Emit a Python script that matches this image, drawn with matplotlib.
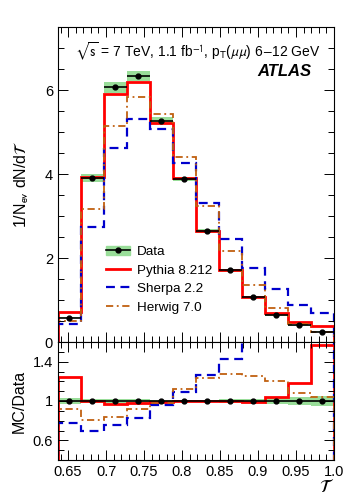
import numpy as np
import matplotlib
matplotlib.use("Agg")
import matplotlib.pyplot as plt
from matplotlib.ticker import MultipleLocator, FixedLocator
from matplotlib.patches import Patch
from matplotlib.lines import Line2D

plt.rcParams['font.family'] = ['Liberation Sans', 'DejaVu Sans']
plt.rcParams['mathtext.fontset'] = 'stixsans'

# binning: transverse thrust from 2/pi to 1, 12 bins
edges = np.linspace(2 / np.pi, 1.0, 13)

data = [0.58, 3.90, 6.06, 6.33, 5.27, 3.88, 2.64, 1.71, 1.08, 0.65, 0.40, 0.25]
data_rel_err = [0.03, 0.025, 0.02, 0.02, 0.015, 0.015, 0.015, 0.02, 0.025, 0.03, 0.04, 0.055]
pythia = [0.71, 3.92, 5.90, 6.19, 5.21, 3.90, 2.64, 1.71, 1.06, 0.68, 0.48, 0.39]
sherpa = [0.44, 2.75, 4.63, 5.31, 5.06, 4.26, 3.32, 2.45, 1.77, 1.26, 0.88, 0.70]
herwig = [0.51, 3.16, 5.15, 5.84, 5.44, 4.40, 3.24, 2.17, 1.35, 0.82, 0.43, 0.25]

ratio_pythia = [1.24, 1.00, 0.97, 0.98, 0.99, 1.00, 1.00, 1.00, 0.99, 1.04, 1.18, 1.57]
ratio_sherpa = [0.78, 0.70, 0.76, 0.83, 0.96, 1.09, 1.26, 1.43, 1.64, 1.94, 2.20, 2.80]
ratio_herwig = [0.92, 0.81, 0.84, 0.92, 0.98, 1.12, 1.23, 1.27, 1.25, 1.20, 1.08, 1.04]

centers = 0.5 * (edges[1:] + edges[:-1])
halfw = 0.5 * np.diff(edges)
data = np.array(data)
rel = np.array(data_rel_err)

fig = plt.figure(figsize=(3.49, 5.0), dpi=100)
ax = fig.add_axes([0.166, 0.316, 0.791, 0.63])
rx = fig.add_axes([0.166, 0.080, 0.791, 0.236], sharex=ax)

red = '#ff0000'
blue = '#0000cc'
brown = '#c06010'
green = '#99dd99'
dash_s = (0, (4, 2.5))
dash_h = (0, (4, 2, 1, 2))

# main panel
ax.stairs(data * (1 + rel), edges, baseline=data * (1 - rel), fill=True, color=green, lw=0)
ax.stairs(pythia, edges, color=red, lw=2.0)
ax.stairs(sherpa, edges, color=blue, lw=1.6, ls=dash_s)
ax.stairs(herwig, edges, color=brown, lw=1.3, ls=dash_h)
ax.errorbar(centers, data, xerr=halfw, fmt='o', color='black', ms=3.5, lw=1.2)

ax.set_xlim(edges[0], 1.0)
ax.set_ylim(0, 7.5)
ax.yaxis.set_major_locator(FixedLocator([0, 2, 4, 6]))
ax.yaxis.set_minor_locator(MultipleLocator(0.5))
ax.set_ylabel(r'1/N$_{\rm ev}$ dN/d$\mathcal{T}$', fontsize=11.5, labelpad=10)
ax.tick_params(labelbottom=False)

ax.text(0.95, 0.92, r'$\sqrt{\rm s}$ = 7 TeV, 1.1 fb$^{-1}$, p$_{\rm T}$($\mu\mu$) 6$-$12 GeV',
        transform=ax.transAxes, ha='right', va='center', fontsize=10)
ax.text(0.92, 0.86, 'ATLAS', transform=ax.transAxes, ha='right', va='center',
        fontsize=12, fontweight='bold', style='italic')

h_data = (Patch(color=green), Line2D([], [], color='black', marker='o', ms=3.5, lw=1.2))
h_p = Line2D([], [], color=red, lw=2.0)
h_s = Line2D([], [], color=blue, lw=1.6, ls=dash_s)
h_h = Line2D([], [], color=brown, lw=1.3, ls=dash_h)
ax.legend([h_data, h_p, h_s, h_h], ['Data', 'Pythia 8.212', 'Sherpa 2.2', 'Herwig 7.0'],
          loc='lower left', bbox_to_anchor=(0.14, 0.06), frameon=False, fontsize=9.7,
          handlelength=1.8, handletextpad=0.5, labelspacing=0.45, borderpad=0.2)

# ratio panel
rx.stairs(1 + rel, edges, baseline=1 - rel, fill=True, color=green, lw=0)
rx.stairs(ratio_pythia, edges, color=red, lw=2.0)
rx.stairs(ratio_sherpa, edges, color=blue, lw=1.6, ls=dash_s)
rx.stairs(ratio_herwig, edges, color=brown, lw=1.3, ls=dash_h)
rx.errorbar(centers, np.ones_like(centers), xerr=halfw, fmt='o', color='black', ms=3.5, lw=1.2)

rx.set_ylim(0.4, 1.6)
rx.yaxis.set_major_locator(FixedLocator([0.6, 1.0, 1.4]))
rx.yaxis.set_minor_locator(MultipleLocator(0.1))
rx.set_yticklabels(['0.6', '1', '1.4'])
rx.set_ylabel('MC/Data', fontsize=11.5, labelpad=4)
rx.xaxis.set_minor_locator(MultipleLocator(0.01))
rx.set_xticks([0.65, 0.7, 0.75, 0.8, 0.85, 0.9, 0.95, 1.0])
rx.set_xticklabels(['0.65', '0.7', '0.75', '0.8', '0.85', '0.9', '0.95', '1.0'])
rx.set_xlabel(r'$\mathcal{T}$', fontsize=13, loc='right', labelpad=0)

for a in (ax, rx):
    a.tick_params(which='both', direction='in', top=True, right=True, labelsize=10.5, width=0.7)
    a.tick_params(which='major', length=7)
    a.tick_params(which='minor', length=4)
    for s in a.spines.values():
        s.set_linewidth(0.8)

fig.savefig('out.png', dpi=100)
